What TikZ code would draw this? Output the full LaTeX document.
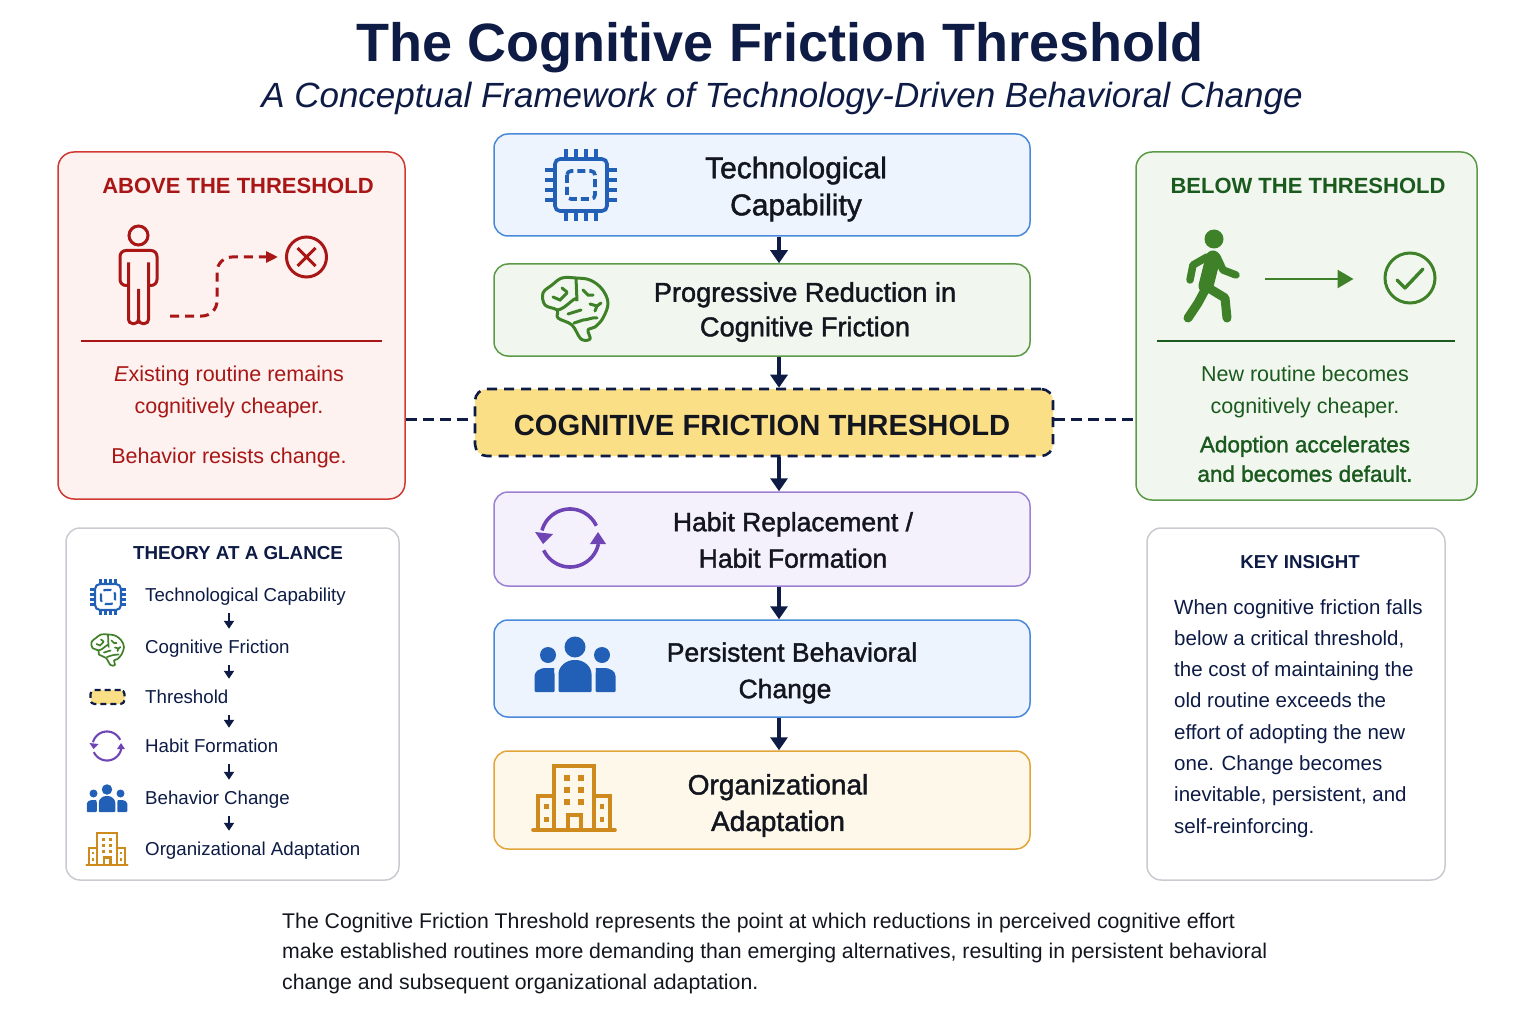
\documentclass[tikz,border=0pt]{standalone}
\usepackage{fontspec}
\setmainfont{Liberation Sans}
\newfontfamily\medfont[FakeBold=1.5]{Liberation Sans}
\usetikzlibrary{arrows.meta,shapes.geometric}
\definecolor{navy}{HTML}{0D1B45}
\definecolor{inkblack}{HTML}{14161F}
\definecolor{techblue}{HTML}{4A88DA}
\definecolor{techfill}{HTML}{EDF4FD}
\definecolor{iconblue}{HTML}{2260B8}
\definecolor{brainline}{HTML}{5C9A48}
\definecolor{brainfill}{HTML}{F1F7EE}
\definecolor{icongreen}{HTML}{3F8129}
\definecolor{habitline}{HTML}{9C80D2}
\definecolor{habitfill}{HTML}{F5F1FC}
\definecolor{iconpurple}{HTML}{6F45B5}
\definecolor{orgline}{HTML}{E2A53A}
\definecolor{orgfill}{HTML}{FEF8EA}
\definecolor{iconorange}{HTML}{CF8A1E}
\definecolor{threshfill}{HTML}{FBDF87}
\definecolor{alarm}{HTML}{A81616}
\definecolor{alarmline}{HTML}{CF3B34}
\definecolor{alarmfill}{HTML}{FDF2F0}
\definecolor{leaf}{HTML}{1B5A1E}
\definecolor{plainline}{HTML}{C9CBD0}
\tikzset{
  flowbox/.style={draw, rounded corners=14pt, line width=1.5pt, minimum width=536pt, inner sep=0pt},
  sidebox/.style={draw, rounded corners=16pt, line width=1.5pt, inner sep=0pt},
  plainbox/.style={draw=plainline, fill=white, rounded corners=14pt, line width=1.5pt, inner sep=0pt},
  flowtext/.style={align=center, text=inkblack, font=\medfont\fontsize{26.5}{36.5}\selectfont},
  boxhead/.style={font=\bfseries\fontsize{22}{30}\selectfont},
  sidetext/.style={align=center, font=\fontsize{21.5}{31.5}\selectfont},
  listitem/.style={anchor=west, inner sep=0pt, minimum height=36pt, text=navy, text height=17pt, text depth=4pt, font=\fontsize{18.7}{24}\selectfont},
  flow/.style={-{Triangle[length=13pt,width=17pt]}, navy, line width=3.4pt},
  smallflow/.style={-{Triangle[length=8pt,width=10pt]}, navy, line width=2pt},
  bigicon/.style={scale=1, line width=3.6pt},
  smallicon/.style={scale=.5, line width=2.1pt},
  chipicon/.pic={
    \draw[rounded corners=5pt] (-26,-26) rectangle (26,26);
    \draw[dash pattern=on 8pt off 4pt, rounded corners=4pt] (-14,-14) rectangle (14,14);
    \foreach \p in {-15,-5,5,15} {
      \draw (\p,-36) -- (\p,-26);
      \draw (\p,26) -- (\p,36);
      \draw (-36,\p) -- (-26,\p);
      \draw (26,\p) -- (36,\p);
    }
  },
  brainicon/.pic={
    \draw[line join=round] plot[smooth cycle, tension=.6] coordinates {(1,-31) (15,-29) (27,-20) (33,-6) (28,9) (20,18) (13,21) (15,30) (6,30) (-3,16) (-17,9) (-18,1) (-30,-4) (-32,-16) (-23,-24) (-13,-31)};
    \draw[line cap=round] (1,-31) -- (2,-8) to[out=90,in=0] (-18,1);
    \draw[line cap=round] (-7,5) -- (6,1);
    \draw[line cap=round] (-22,-12) -- (-15,-9) -- (-8,-16);
    \draw[line cap=round] (-13,-21) -- (-8,-17);
    \draw[line cap=round] (8,-19) -- (13,-14) -- (18,-14);
    \draw[line cap=round] (15,-5) -- (22,-3) -- (20,2);
    \draw[line cap=round] (22,-3) -- (26,-6);
    \draw[line cap=round] (22,9) to[out=170,in=0] (8,11) -- (-1,14);
  },
  cycleicon/.pic={
    \draw plot[domain=-165:-25, samples=30] ({29*cos(\x)},{29*sin(\x)});
    \draw plot[domain=155:12, samples=30] ({29*cos(\x)},{29*sin(\x)});
    \fill (-35,-6) -- (-17,-4) -- (-27,6) -- cycle;
    \fill (20,6) -- (36,6) -- (28,-6) -- cycle;
  },
  peopleicon/.pic={
    \fill (0,-20) circle (10.5);
    \fill (-27,-12) circle (8);
    \fill (27,-12) circle (8);
    \fill[rounded corners=1pt] (-16.5,25) -- (-16.5,8) to[out=90,in=180] (0,-7) to[out=0,in=90] (16.5,8) -- (16.5,25) -- cycle;
    \fill[rounded corners=1pt] (-40.5,25) -- (-40.5,10) to[out=90,in=180] (-29,1) -- (-20,1) to[out=-130,in=90] (-20.5,8) -- (-20.5,25) -- cycle;
    \fill[rounded corners=1pt] (40.5,25) -- (40.5,10) to[out=90,in=0] (29,1) -- (20,1) to[out=-50,in=90] (20.5,8) -- (20.5,25) -- cycle;
  },
  buildingicon/.pic={
    \draw (-20,32) -- (-20,-32) -- (20,-32) -- (20,32);
    \draw (-20,-2) -- (-36,-2) -- (-36,32);
    \draw (20,-2) -- (36,-2) -- (36,32);
    \draw[line cap=round] (-41,32) -- (41,32);
    \draw (-6,32) -- (-6,17) -- (7,17) -- (7,32);
    \foreach \wy in {-20,-8,4} {
      \fill (-10,\wy-3) rectangle (-4,\wy+3);
      \fill (4,\wy-3) rectangle (10,\wy+3);
    }
    \foreach \wy in {8,21} {
      \fill (-30,\wy-2.5) rectangle (-25.5,\wy+2.5);
      \fill (25.5,\wy-2.5) rectangle (30,\wy+2.5);
    }
  }
}
\begin{document}
\begin{tikzpicture}[x=1pt, y=-1pt]
\useasboundingbox (0,0) rectangle (1536,1024);

% heading
\node (title) [text=navy, font=\bfseries\fontsize{54}{60}\selectfont] at (780,48) {The Cognitive Friction Threshold};
\node (subtitle) [text=navy, font=\itshape\fontsize{35}{40}\selectfont] at (782,98.5) {A Conceptual Framework of Technology-Driven Behavioral Change};

% central column
\coordinate (flowx) at (779,0);
\node (techbox) [flowbox, draw=techblue, fill=techfill, minimum height=102pt] at (762,185) {};
\node (brainbox) [flowbox, draw=brainline, fill=brainfill, minimum height=92pt] at (762,310) {};
\node (threshbox) [draw=navy, fill=threshfill, dash pattern=on 10pt off 7pt, rounded corners=12pt, line width=2.6pt, minimum width=578pt, minimum height=67pt, inner sep=0pt] at (764,422.5) {};
\node (habitbox) [flowbox, draw=habitline, fill=habitfill, minimum height=94pt] at (762,539) {};
\node (peoplebox) [flowbox, draw=techblue, fill=techfill, minimum height=97pt] at (762,668.5) {};
\node (orgbox) [flowbox, draw=orgline, fill=orgfill, minimum height=98pt] at (762,800) {};

\node (techtext) [flowtext, font=\medfont\fontsize{30}{37}\selectfont] at (796,189) {Technological \\ Capability};
\node (braintext) [flowtext, font=\medfont\fontsize{27.2}{34.5}\selectfont] at (805,312) {Progressive Reduction in \\ Cognitive Friction};
\node (threshtext) [text=inkblack, font=\bfseries\fontsize{29.2}{38}\selectfont] at (762,425) {COGNITIVE FRICTION THRESHOLD};
\node (habittext) [flowtext] at (793,540) {Habit Replacement / \\ Habit Formation};
\node (peopletext) [flowtext] at (792,673) {Persistent Behavioral \\ Change\hspace*{14pt}};
\node (orgtext) [flowtext, font=\medfont\fontsize{28}{36.5}\selectfont] at (778,805.5) {Organizational \\ Adaptation};

\pic[iconblue, bigicon] at (581,185) {chipicon};
\pic[icongreen, bigicon, line width=3pt] at (575,309) {brainicon};
\pic[iconpurple, bigicon] at (570,538) {cycleicon};
\pic[iconblue, bigicon] at (575,667) {peopleicon};
\pic[iconorange, bigicon] at (574,798) {buildingicon};

\draw [flow] (techbox.south -| flowx) -- (brainbox.north -| flowx);
\draw [flow] (brainbox.south -| flowx) -- (threshbox.north -| flowx);
\draw [flow] (threshbox.south -| flowx) -- (habitbox.north -| flowx);
\draw [flow] (habitbox.south -| flowx) -- (peoplebox.north -| flowx);
\draw [flow] (peoplebox.south -| flowx) -- (orgbox.north -| flowx);

% above the threshold
\node (abovebox) [sidebox, draw=alarmline, fill=alarmfill, minimum width=347pt, minimum height=347pt] at (231.5,325.5) {};
\node (abovehead) [boxhead, text=alarm] at (238,185.5) {ABOVE THE THRESHOLD};
\node (crossmark) [draw=alarm, circle, line width=3pt, minimum size=40pt, inner sep=0pt] at (306.5,257) {};
\coordinate (routestart) at (170,316);
\draw [alarm, line width=3pt, dash pattern=on 9pt off 6pt, rounded corners=15pt, -{Triangle[length=12pt,width=11pt]}, shorten >=7pt] (routestart) -- (217,316) -- (217,257) -- (crossmark.west);
\draw [alarm, line width=3pt] (306.5-9,257-9) -- (306.5+9,257+9) (306.5+9,257-9) -- (306.5-9,257+9);
\begin{scope}[shift={(138.5,283.5)}, alarm, line width=3pt]
\draw (0,-48) circle (9.5);
\draw [rounded corners=6pt] (-9,2) -- (-18.5,2) -- (-18.5,-33) -- (18.5,-33) -- (18.5,2) -- (9,2);
\draw [rounded corners=4pt] (-10,-21) -- (-10,40) -- (0,40) -- (0,3) -- (0,40) -- (10,40) -- (10,-21);
\end{scope}
\draw [alarm, line width=2pt] (81,341) -- (382,341);
\node (abovetext) [sidetext, text=alarm] at (229,392) {\textit{E}xisting routine remains \\ cognitively cheaper.};
\node (abovenote) [sidetext, text=alarm] at (229,458) {Behavior resists change.};

% below the threshold
\node (belowbox) [sidebox, draw=brainline, fill=brainfill, minimum width=341pt, minimum height=348pt] at (1306.5,326) {};
\node (belowhead) [boxhead, text=leaf] at (1308,185.5) {BELOW THE THRESHOLD};
\node (checkmark) [draw=icongreen, circle, line width=3pt, minimum size=50pt, inner sep=0pt] at (1410,278) {};
\coordinate (walkend) at (1265,279);
\draw [icongreen, line width=2.6pt, -{Triangle[length=16pt,width=18pt]}, shorten >=30pt] (walkend) -- (checkmark.west |- walkend);
\draw [icongreen, line width=3.4pt, line cap=round, line join=round] (1397,280) -- (1405,288) -- (1423,269);
\begin{scope}[shift={(1214,280)}, icongreen, line cap=round, line join=round]
\fill (0,-41) circle (9.5);
\draw [line width=15pt] (-1,-22) -- (-8,6);
\draw [line width=9pt] (-9,10) -- (-16,23) -- (-26,38);
\draw [line width=9pt] (-7,7) -- (11,18) -- (13,38);
\draw [line width=7.5pt] (-7,-23) -- (-21,-15) -- (-24,0);
\draw [line width=7.5pt] (3,-23) -- (9,-10) -- (22,-5);
\end{scope}
\draw [leaf, line width=2pt] (1157,341) -- (1455,341);
\node (belowtext) [sidetext, text=leaf] at (1305,392) {New routine becomes \\ cognitively cheaper.};
\node (belownote) [sidetext, text=leaf, font=\medfont\fontsize{22.5}{29.5}\selectfont] at (1305,459) {Adoption accelerates \\ and becomes default.};

% threshold links
\draw [navy, line width=3pt, dash pattern=on 11pt off 6pt] (abovebox.east |- 0,419) -- (threshbox.west |- 0,419);
\draw [navy, line width=3pt, dash pattern=on 11pt off 6pt] (threshbox.east |- 0,419) -- (belowbox.west |- 0,419);

% theory at a glance
\node (theorybox) [plainbox, minimum width=333pt, minimum height=352pt] at (232.5,704) {};
\node (theoryhead) [text=navy, font=\bfseries\fontsize{18.8}{24}\selectfont] at (238,553) {THEORY AT A GLANCE};
\coordinate (listx) at (229,0);
\node (itemtech) [listitem] at (145,595) {Technological Capability};
\node (itembrain) [listitem] at (145,647) {Cognitive Friction};
\node (itemthresh) [listitem] at (145,697) {Threshold};
\node (itemhabit) [listitem] at (145,746) {Habit Formation};
\node (itempeople) [listitem] at (145,798) {Behavior Change};
\node (itemorg) [listitem] at (145,849) {Organizational Adaptation};
\draw [smallflow] (itemtech.south -| listx) -- (itembrain.north -| listx);
\draw [smallflow] (itembrain.south -| listx) -- (itemthresh.north -| listx);
\draw [smallflow] (itemthresh.south -| listx) -- (itemhabit.north -| listx);
\draw [smallflow] (itemhabit.south -| listx) -- (itempeople.north -| listx);
\draw [smallflow] (itempeople.south -| listx) -- (itemorg.north -| listx);
\pic[iconblue, smallicon] at (108,597) {chipicon};
\pic[icongreen, smallicon, line width=1.7pt] at (107.5,650) {brainicon};
\node (threshicon) [draw=navy, fill=threshfill, dash pattern=on 6pt off 4pt, rounded corners=4pt, line width=2.2pt, minimum width=34pt, minimum height=14pt, inner sep=0pt] at (107.5,697) {};
\pic[iconpurple, smallicon] at (107,746) {cycleicon};
\pic[iconblue, smallicon] at (107,799.5) {peopleicon};
\pic[iconorange, smallicon] at (107,849) {buildingicon};

% key insight
\node (keybox) [plainbox, minimum width=298pt, minimum height=352pt] at (1296,704) {};
\node (keyhead) [text=navy, font=\bfseries\fontsize{18.7}{24}\selectfont] at (1300,562.5) {KEY INSIGHT};
\node (keytext) [anchor=north west, inner sep=0pt, align=left, text=navy, font=\fontsize{20.5}{31.3}\selectfont] at (1174,599) {When cognitive friction falls \\ below a critical threshold, \\ the cost of maintaining the \\ old routine exceeds the \\ effort of adopting the new \\ one. Change becomes \\ inevitable, persistent, and \\ self-reinforcing.};

% closing note
\node (closing) [anchor=north west, inner sep=0pt, align=left, text=inkblack, font=\fontsize{21.25}{30.2}\selectfont] at (282,913) {The Cognitive Friction Threshold represents the point at which reductions in perceived cognitive effort \\ make established routines more demanding than emerging alternatives, resulting in persistent behavioral \\ change and subsequent organizational adaptation.};
\end{tikzpicture}
\end{document}
